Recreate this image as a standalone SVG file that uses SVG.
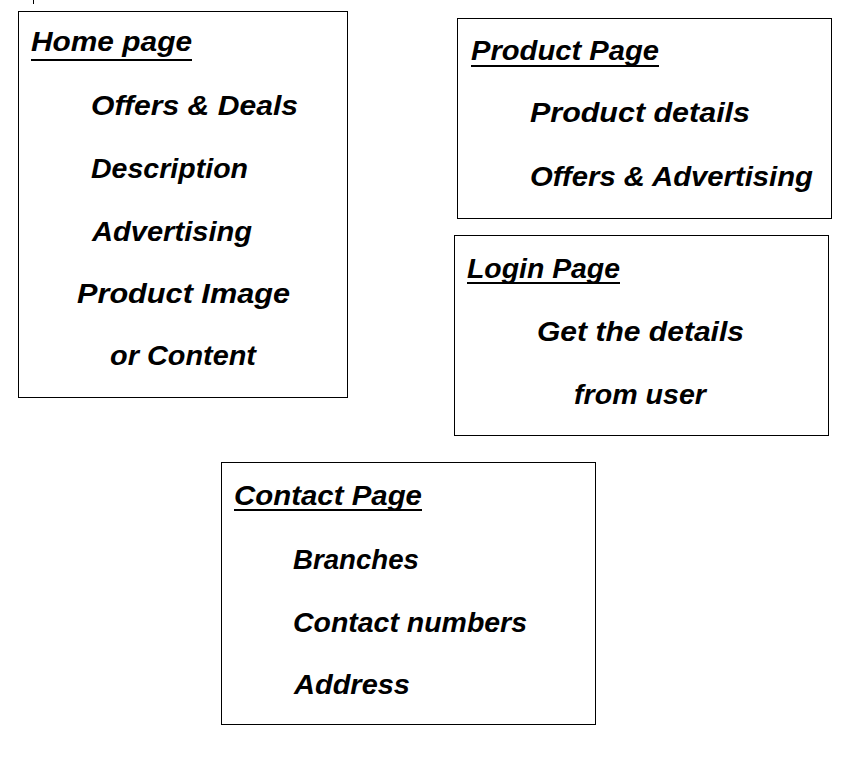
<svg xmlns="http://www.w3.org/2000/svg" width="859" height="769" viewBox="0 0 859 769">
<style>
.box{fill:#fff;stroke:#000;stroke-width:1}
.t{font-family:"Liberation Sans",Arial,sans-serif;font-weight:bold;font-style:italic;font-size:27px;fill:#000}
.u{stroke:#000;stroke-width:2}
</style>
<rect width="859" height="769" fill="#fff"/>
<line x1="33.5" y1="0" x2="33.5" y2="4" stroke="#000" stroke-width="1"/>
<g id="home">
<rect class="box" x="18.5" y="11.5" width="329" height="386"/>
<text class="t" x="31" y="51" textLength="161" lengthAdjust="spacingAndGlyphs">Home page</text>
<line class="u" x1="31" y1="60" x2="192" y2="60"/>
<text class="t" x="91" y="115" textLength="207" lengthAdjust="spacingAndGlyphs">Offers &amp; Deals</text>
<text class="t" x="91" y="178" textLength="157" lengthAdjust="spacingAndGlyphs">Description</text>
<text class="t" x="92" y="241" textLength="160" lengthAdjust="spacingAndGlyphs">Advertising</text>
<text class="t" x="77" y="303" textLength="213" lengthAdjust="spacingAndGlyphs">Product Image</text>
<text class="t" x="110" y="365" textLength="146" lengthAdjust="spacingAndGlyphs">or Content</text>
</g>
<g id="product">
<rect class="box" x="457.5" y="18.5" width="374" height="200"/>
<text class="t" x="471" y="60" textLength="188" lengthAdjust="spacingAndGlyphs">Product Page</text>
<line class="u" x1="471" y1="66" x2="659" y2="66"/>
<text class="t" x="530" y="122" textLength="220" lengthAdjust="spacingAndGlyphs">Product details</text>
<text class="t" x="530" y="186" textLength="283" lengthAdjust="spacingAndGlyphs">Offers &amp; Advertising</text>
</g>
<g id="login">
<rect class="box" x="454.5" y="235.5" width="374" height="200"/>
<text class="t" x="467" y="278" textLength="153" lengthAdjust="spacingAndGlyphs">Login Page</text>
<line class="u" x1="467" y1="283" x2="620" y2="283"/>
<text class="t" x="537" y="341" textLength="207" lengthAdjust="spacingAndGlyphs">Get the details</text>
<text class="t" x="574" y="404" textLength="132" lengthAdjust="spacingAndGlyphs">from user</text>
</g>
<g id="contact">
<rect class="box" x="221.5" y="462.5" width="374" height="262"/>
<text class="t" x="234" y="505" textLength="188" lengthAdjust="spacingAndGlyphs">Contact Page</text>
<line class="u" x1="234" y1="510" x2="422" y2="510"/>
<text class="t" x="293" y="569" textLength="126" lengthAdjust="spacingAndGlyphs">Branches</text>
<text class="t" x="293" y="632" textLength="234" lengthAdjust="spacingAndGlyphs">Contact numbers</text>
<text class="t" x="294" y="694" textLength="116" lengthAdjust="spacingAndGlyphs">Address</text>
</g>
<g id="connectors"></g>
</svg>
